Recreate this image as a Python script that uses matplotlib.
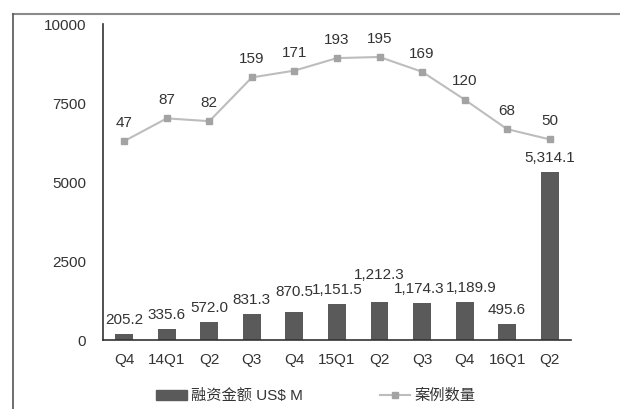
import numpy as np
import matplotlib
matplotlib.use("Agg")
import matplotlib.pyplot as plt
from matplotlib.lines import Line2D

plt.rcParams['font.family'] = ['Liberation Sans', 'Noto Sans CJK SC', 'DejaVu Sans']

quarters = ["Q4", "14Q1", "Q2", "Q3", "Q4", "15Q1", "Q2", "Q3", "Q4", "16Q1", "Q2"]
amount = [205.2, 335.6, 572.0, 831.3, 870.5, 1151.5, 1212.3, 1174.3, 1189.9, 495.6, 5314.1]
deals = [47, 87, 82, 159, 171, 193, 195, 169, 120, 68, 50]

text_col = "#333333"
bar_col = "#5a5a5a"
line_col = "#bdbdbd"
marker_col = "#a3a3a3"

fig = plt.figure(figsize=(6.2, 4.09), dpi=100)
ax = fig.add_axes([0.1661, 0.1687, 0.7548, 0.7726])
x = np.arange(len(quarters))

ax.bar(x, amount, width=0.42, color=bar_col, zorder=2)
ax.set_xlim(-0.5, len(quarters) - 0.5)
ax.set_ylim(0, 10000)
ax.set_yticks([0, 2500, 5000, 7500, 10000])
ax.set_xticks(x)
ax.set_xticklabels(quarters)
ax.tick_params(axis='both', length=0, labelsize=11, colors=text_col)
ax.tick_params(axis='y', pad=12)
ax.tick_params(axis='x', pad=9)
for s in ['top', 'right']:
    ax.spines[s].set_visible(False)
for s in ['left', 'bottom']:
    ax.spines[s].set_color("#333333")
    ax.spines[s].set_linewidth(1.2)

# nudges for labels that would collide (points)
nudge = {4: (0, 5), 6: (0, 9), 7: (-2, 0), 8: (5, 0)}
for i, v in enumerate(amount):
    dx, dy = nudge.get(i, (0, 0))
    ax.annotate(f"{v:,.1f}", (x[i], v), xytext=(dx, 5 + dy),
                textcoords='offset points', ha='center', va='bottom',
                fontsize=11, color=text_col)

ax2 = ax.twinx()
ax2.plot(x, deals, color=line_col, lw=1.5, marker='s', markersize=5,
         markerfacecolor=marker_col, markeredgecolor=marker_col, zorder=3)
ax2.set_ylim(-303, 253)
ax2.set_yticks([])
for s in ax2.spines.values():
    s.set_visible(False)
for i, v in enumerate(deals):
    ax2.annotate(str(v), (x[i], v), xytext=(0, 8), textcoords='offset points',
                 ha='center', va='bottom', fontsize=11, color=text_col)

# outer frame lines (top and left)
fig.add_artist(Line2D([13 / 620, 1.0], [1 - 14 / 409, 1 - 14 / 409],
                      color="#8a8a8a", lw=1.5, transform=fig.transFigure))
fig.add_artist(Line2D([13 / 620, 13 / 620], [0, 1 - 14 / 409],
                      color="#555555", lw=1.2, transform=fig.transFigure))

handles = [plt.Rectangle((0, 0), 1, 1, color=bar_col),
           Line2D([], [], color=line_col, lw=1.5, marker='s', markersize=5,
                  markerfacecolor=marker_col, markeredgecolor=marker_col)]
fig.legend(handles, ["融资金额 US$ M", "案例数量"], loc='center',
           bbox_to_anchor=(316 / 620, 1 - 396 / 409), ncol=2, frameon=False,
           fontsize=11, labelcolor=text_col, handlelength=2.0,
           handletextpad=0.3, columnspacing=5)

fig.savefig("out.png", dpi=100)
